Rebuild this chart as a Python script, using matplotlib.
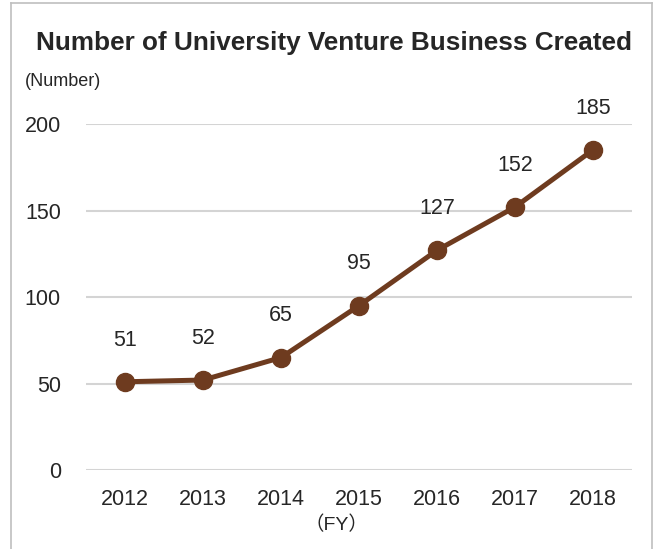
import matplotlib
matplotlib.use("Agg")
import matplotlib.pyplot as plt
from matplotlib.lines import Line2D

years = ["2012", "2013", "2014", "2015", "2016", "2017", "2018"]
ventures = [51, 52, 65, 95, 127, 152, 185]
y_ticks = [0, 50, 100, 150, 200]

LINE_COLOR = "#6E3B1F"
GRID_COLOR = "#D4D4D4"
TEXT_COLOR = "#262626"

plt.rcParams["font.family"] = ["Liberation Sans", "Noto Sans CJK JP", "DejaVu Sans"]

fig = plt.figure(figsize=(6.6, 5.49), dpi=100)
ax = fig.add_axes([86 / 660, 1 - 470 / 549, 546 / 660, 346 / 549])

x = list(range(len(years)))
ax.plot(x, ventures, color=LINE_COLOR, linewidth=3.6, marker="o", markersize=13,
        solid_capstyle="round", zorder=3)
for xi, v in zip(x, ventures):
    ax.annotate(str(v), (xi, v), xytext=(0, 30), textcoords="offset points",
                ha="center", va="center", fontsize=15.5, color=TEXT_COLOR)

ax.set_xlim(-0.5, len(years) - 0.5)
ax.set_ylim(0, 200)
ax.set_yticks(y_ticks)
ax.set_xticks(x)
ax.set_xticklabels(years)
ax.grid(axis="y", color=GRID_COLOR, linewidth=1.5)
ax.set_axisbelow(True)
for s in ax.spines.values():
    s.set_visible(False)
ax.tick_params(axis="both", length=0, labelsize=15.5, labelcolor=TEXT_COLOR)
ax.tick_params(axis="y", pad=18)
ax.tick_params(axis="x", pad=14)

fig.text(334 / 660, 1 - 43 / 549, "Number of University Venture Business Created",
         ha="center", va="center", fontsize=18.8, fontweight="bold", color=TEXT_COLOR)
fig.text(25 / 660, 1 - 82 / 549, "(Number)", ha="left", va="center",
         fontsize=13, color=TEXT_COLOR)
fig.text(336 / 660, 1 - 525 / 549, "（FY）", ha="center", va="center",
         fontsize=14, color=TEXT_COLOR)

# frame around the chart (bottom edge falls outside the picture)
border = dict(color="#BFBFBF", linewidth=1.2, transform=fig.transFigure)
fig.add_artist(Line2D([11 / 660, 11 / 660], [0, 1 - 3 / 549], **border))
fig.add_artist(Line2D([11 / 660, 652 / 660], [1 - 3 / 549, 1 - 3 / 549], **border))
fig.add_artist(Line2D([652 / 660, 652 / 660], [0, 1 - 3 / 549], **border))

fig.savefig("out.png", dpi=100)
